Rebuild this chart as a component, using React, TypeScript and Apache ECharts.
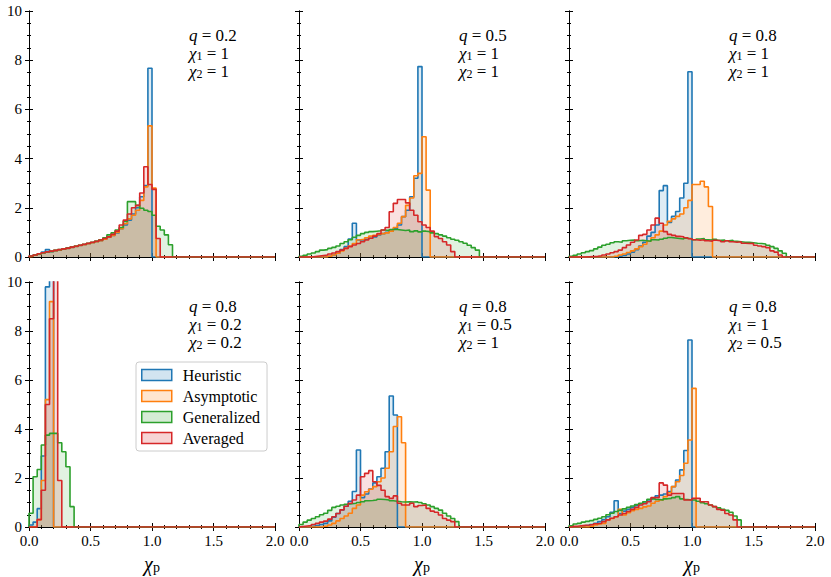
import React, { useEffect, useRef } from "react";
import * as echarts from "echarts";

// ---------- data (histogram densities, bin width 1/30 on [0, 2]) ----------
const BIN_WIDTH = 1 / 30;
const N_BINS = 60;
const X_MIN = 0;
const X_MAX = 2;
const Y_MIN = 0;
const Y_MAX = 10;

const METHODS = ["Heuristic", "Asymptotic", "Generalized", "Averaged"];
const COLORS = ["#1f77b4", "#ff7f0e", "#2ca02c", "#d62728"];
const FILLS = [
  "rgba(31,119,180,0.2)",
  "rgba(255,127,14,0.2)",
  "rgba(44,160,44,0.2)",
  "rgba(214,39,40,0.2)",
];

// panel 1: q=0.2, chi1=1, chi2=1
const P1_HEU = { start: 0, values: [0.03, 0.08, 0.12, 0.2, 0.3, 0.22, 0.26, 0.29, 0.32, 0.35, 0.39, 0.43, 0.47, 0.5, 0.54, 0.58, 0.62, 0.66, 0.72, 0.8, 0.88, 0.98, 1.15, 1.3, 1.5, 1.75, 2.0, 2.45, 2.9, 7.67] };
const P1_ASY = { start: 0, values: [0.02, 0.07, 0.12, 0.17, 0.2, 0.23, 0.26, 0.29, 0.32, 0.35, 0.39, 0.43, 0.47, 0.5, 0.54, 0.58, 0.62, 0.66, 0.72, 0.8, 0.88, 1.0, 1.15, 1.35, 1.55, 1.7, 1.9, 2.3, 2.85, 5.33, 2.8] };
const P1_GEN = { start: 0, values: [0.04, 0.08, 0.12, 0.16, 0.2, 0.23, 0.27, 0.3, 0.33, 0.37, 0.4, 0.44, 0.48, 0.52, 0.56, 0.6, 0.65, 0.7, 0.78, 0.9, 0.98, 1.1, 1.2, 1.45, 2.25, 2.25, 2.1, 1.98, 1.9, 1.85, 1.7, 1.25, 1.1, 0.9, 0.5] };
const P1_AVG = { start: 0, values: [0.04, 0.08, 0.13, 0.17, 0.21, 0.24, 0.27, 0.3, 0.33, 0.36, 0.4, 0.44, 0.48, 0.52, 0.56, 0.6, 0.64, 0.69, 0.75, 0.82, 0.92, 1.05, 1.3, 1.5, 1.75, 2.0, 2.1, 2.6, 3.67, 2.95, 2.75, 0.75] };

// panel 2: q=0.5, chi1=1, chi2=1
const P2_HEU = { start: 6, values: [0.02, 0.04, 0.08, 0.15, 0.3, 0.42, 0.73, 1.37, 0.69, 0.65, 0.72, 0.76, 0.82, 0.9, 0.95, 1.0, 1.05, 1.15, 1.3, 1.64, 1.9, 2.45, 3.2, 7.74] };
const P2_ASY = { start: 7, values: [0.03, 0.08, 0.15, 0.25, 0.35, 0.45, 0.55, 0.7, 0.72, 0.78, 0.85, 0.88, 0.92, 0.95, 0.98, 1.05, 1.2, 1.37, 1.64, 2.1, 2.4, 3.3, 3.4, 4.89, 2.72] };
const P2_GEN = { start: 0, values: [0.03, 0.07, 0.12, 0.16, 0.22, 0.28, 0.3, 0.35, 0.39, 0.45, 0.55, 0.62, 0.7, 0.8, 0.88, 0.95, 1.0, 1.03, 1.05, 1.07, 1.1, 1.08, 1.12, 1.12, 1.1, 1.08, 1.1, 1.03, 1.06, 1.02, 1.05, 1.03, 0.98, 0.95, 0.9, 0.85, 0.78, 0.72, 0.68, 0.62, 0.56, 0.48, 0.38, 0.28] };
const P2_AVG = { start: 3, values: [0.02, 0.04, 0.06, 0.08, 0.12, 0.16, 0.22, 0.28, 0.35, 0.42, 0.49, 0.55, 0.62, 0.69, 0.76, 0.85, 0.95, 1.1, 1.2, 1.84, 2.18, 2.34, 2.34, 2.2, 1.9, 1.7, 1.43, 1.3, 1.2, 1.05, 0.83, 0.75, 0.62, 0.49, 0.22] };

// panel 3: q=0.8, chi1=1, chi2=1
const P3_HEU = { start: 12, values: [0.03, 0.06, 0.12, 0.2, 0.3, 0.45, 0.6, 0.85, 1.0, 1.3, 2.7, 2.9, 1.4, 1.65, 1.85, 2.4, 3.0, 7.53] };
const P3_ASY = { start: 11, values: [0.03, 0.08, 0.12, 0.18, 0.25, 0.33, 0.42, 0.52, 0.64, 0.78, 0.9, 1.05, 1.3, 1.45, 1.55, 1.65, 1.75, 2.0, 2.3, 2.95, 2.95, 3.08, 2.85, 2.05] };
const P3_GEN = { start: 0, values: [0.03, 0.07, 0.12, 0.17, 0.22, 0.26, 0.33, 0.4, 0.48, 0.52, 0.58, 0.62, 0.6, 0.66, 0.68, 0.69, 0.66, 0.68, 0.66, 0.64, 0.7, 0.69, 0.72, 0.76, 0.79, 0.77, 0.75, 0.73, 0.76, 0.74, 0.7, 0.73, 0.75, 0.7, 0.69, 0.72, 0.68, 0.69, 0.66, 0.68, 0.64, 0.62, 0.6, 0.6, 0.58, 0.56, 0.55, 0.53, 0.48, 0.42, 0.35, 0.25, 0.15] };
const P3_AVG = { start: 4, values: [0.01, 0.02, 0.03, 0.05, 0.08, 0.12, 0.17, 0.22, 0.28, 0.38, 0.49, 0.6, 0.69, 0.88, 0.92, 1.1, 1.3, 1.58, 1.37, 1.03, 0.92, 0.88, 0.84, 0.82, 0.78, 0.74, 0.7, 0.68, 0.7, 0.66, 0.64, 0.68, 0.66, 0.62, 0.66, 0.62, 0.6, 0.62, 0.56, 0.55, 0.56, 0.48, 0.45, 0.42, 0.38, 0.25, 0.2, 0.08] };

// panel 4: q=0.8, chi1=0.2, chi2=0.2
const P4_HEU = { start: 0, values: [0.08, 0.2, 0.75, 2.9, 9.8, 14] };
const P4_ASY = { start: 2, values: [0.3, 1.9, 5.2, 9.2] };
const P4_GEN = { start: 0, values: [0.56, 2.05, 2.35, 3.35, 3.75, 3.82, 3.82, 3.44, 3.07, 2.46, 0.83] };
const P4_AVG = { start: 2, values: [0.3, 1.5, 5.0, 8.5, 12, 1.9] };

// panel 5: q=0.8, chi1=0.5, chi2=1
const P5_HEU = { start: 3, values: [0.03, 0.06, 0.1, 0.15, 0.25, 0.4, 0.55, 0.7, 0.85, 1.05, 1.45, 3.14, 1.2, 1.35, 1.55, 1.8, 2.05, 2.4, 3.07, 5.35, 4.57] };
const P5_ASY = { start: 6, values: [0.03, 0.08, 0.15, 0.25, 0.35, 0.45, 0.56, 0.76, 0.9, 1.3, 1.44, 1.54, 1.65, 1.85, 2.0, 2.4, 3.07, 4.1, 4.5, 3.44] };
const P5_GEN = { start: 0, values: [0.1, 0.2, 0.28, 0.35, 0.42, 0.5, 0.56, 0.68, 0.8, 0.85, 0.9, 0.93, 0.95, 0.97, 1.0, 1.03, 1.07, 1.08, 1.1, 1.13, 1.12, 1.1, 1.07, 1.05, 1.03, 1.02, 1.03, 1.02, 1.03, 1.0, 0.95, 0.9, 0.83, 0.76, 0.69, 0.56, 0.45, 0.35, 0.22] };
const P5_AVG = { start: 0, values: [0.02, 0.04, 0.06, 0.1, 0.15, 0.2, 0.24, 0.32, 0.42, 0.55, 0.7, 0.85, 0.97, 1.1, 1.3, 2.05, 2.19, 2.3, 1.85, 1.7, 1.5, 1.24, 1.17, 1.27, 0.97, 0.9, 0.9, 0.97, 0.83, 0.88, 0.9, 0.76, 0.65, 0.6, 0.49, 0.35, 0.28, 0.22] };

// panel 6: q=0.8, chi1=1, chi2=0.5
const P6_HEU = { start: 3, values: [0.03, 0.06, 0.1, 0.15, 0.22, 0.3, 0.42, 0.6, 1.07, 0.55, 0.65, 0.72, 0.8, 0.88, 0.95, 1.02, 1.1, 1.18, 1.27, 1.3, 1.35, 1.45, 1.65, 1.92, 2.33, 3.12, 7.63] };
const P6_ASY = { start: 5, values: [0.03, 0.08, 0.12, 0.15, 0.29, 0.35, 0.42, 0.72, 0.49, 0.58, 0.67, 0.72, 0.76, 0.82, 0.86, 0.97, 1.05, 1.1, 1.24, 1.4, 1.65, 1.85, 2.1, 2.6, 3.55, 5.66] };
const P6_GEN = { start: 0, values: [0.05, 0.12, 0.15, 0.2, 0.23, 0.26, 0.31, 0.36, 0.42, 0.5, 0.56, 0.63, 0.68, 0.74, 0.8, 0.86, 0.92, 0.97, 1.03, 1.13, 1.15, 1.12, 1.1, 1.15, 1.17, 1.2, 1.24, 1.15, 1.12, 1.1, 1.1, 1.05, 0.99, 0.95, 0.9, 0.83, 0.78, 0.72, 0.68, 0.6, 0.45, 0.29] };
const P6_AVG = { start: 1, values: [0.03, 0.05, 0.07, 0.08, 0.1, 0.13, 0.15, 0.22, 0.29, 0.36, 0.42, 0.49, 0.55, 0.63, 0.72, 0.8, 0.9, 0.95, 1.03, 1.2, 1.2, 1.8, 1.71, 1.3, 1.37, 1.37, 1.37, 1.1, 1.1, 1.17, 1.17, 1.03, 1.03, 0.9, 0.83, 0.72, 0.69, 0.55, 0.49, 0.29] };

const PANEL_SERIES = [
  [P1_HEU, P1_ASY, P1_GEN, P1_AVG],
  [P2_HEU, P2_ASY, P2_GEN, P2_AVG],
  [P3_HEU, P3_ASY, P3_GEN, P3_AVG],
  [P4_HEU, P4_ASY, P4_GEN, P4_AVG],
  [P5_HEU, P5_ASY, P5_GEN, P5_AVG],
  [P6_HEU, P6_ASY, P6_GEN, P6_AVG],
];

// panel parameter labels: q, chi1, chi2
const PANEL_Q = ["0.2", "0.5", "0.8", "0.8", "0.8", "0.8"];
const PANEL_CHI1 = ["1", "1", "1", "0.2", "0.5", "1"];
const PANEL_CHI2 = ["1", "1", "1", "0.2", "1", "0.5"];

// ---------- layout ----------
const GRID_LEFTS = [29, 299, 569];
const GRID_TOPS = [11, 282];
const GRID_W = 246;
const GRID_HS = [246, 245];
const FONT = "Liberation Serif";

function toSteps(s: { start: number; values: number[] }) {
  const full: number[] = new Array(N_BINS).fill(0);
  s.values.forEach((v, k) => {
    full[s.start + k] = v;
  });
  const pts: number[][] = [[X_MIN, 0]];
  full.forEach((v, i) => pts.push([X_MIN + i * BIN_WIDTH, v]));
  pts.push([X_MAX, full[N_BINS - 1]]);
  pts.push([X_MAX, 0]);
  return pts;
}

function buildOption() {
  const grid: any[] = [];
  const xAxis: any[] = [];
  const yAxis: any[] = [];
  const series: any[] = [];
  const graphic: any[] = [];

  for (let p = 0; p < 6; p++) {
    const r = Math.floor(p / 3);
    const c = p % 3;
    grid.push({ left: GRID_LEFTS[c], top: GRID_TOPS[r], width: GRID_W, height: GRID_HS[r] });

    const lineStyle = { color: "#000", width: 1 };
    const commonX = {
      gridIndex: p,
      type: "value",
      min: X_MIN,
      max: X_MAX,
      interval: 0.5,
      splitLine: { show: false },
      axisLine: { show: true, lineStyle },
      axisTick: { show: true, inside: true, length: 4, lineStyle },
      minorTick: { show: true, splitNumber: 5, length: 2, lineStyle },
    };
    xAxis.push({
      ...commonX,
      position: "bottom",
      axisLabel: {
        show: r === 1,
        formatter: (v: number) => v.toFixed(1),
        fontFamily: FONT,
        fontSize: 15,
        color: "#000",
        margin: 6,
      },
      name: r === 1 ? "{a|χ}{b|p}" : "",
      nameLocation: "middle",
      nameGap: 27,
      nameTextStyle: {
        fontFamily: FONT,
        rich: {
          a: { fontFamily: FONT, fontSize: 20, fontStyle: "italic", color: "#000", lineHeight: 20 },
          b: { fontFamily: FONT, fontSize: 14, color: "#000", lineHeight: 12, verticalAlign: "bottom" },
        },
      },
    });
    xAxis.push({ ...commonX, position: "top", axisLabel: { show: false } });

    const commonY = {
      gridIndex: p,
      type: "value",
      min: Y_MIN,
      max: Y_MAX,
      interval: 2,
      splitLine: { show: false },
      axisLine: { show: true, lineStyle },
      axisTick: { show: true, inside: true, length: 4, lineStyle },
      minorTick: { show: true, splitNumber: 4, length: 2, lineStyle },
    };
    yAxis.push({
      ...commonY,
      position: "left",
      axisLabel: { show: c === 0, fontFamily: FONT, fontSize: 15, color: "#000", margin: 7 },
    });
    yAxis.push({ ...commonY, position: "right", axisLabel: { show: false } });

    PANEL_SERIES[p].forEach((s, m) => {
      series.push({
        type: "line",
        name: METHODS[m],
        xAxisIndex: 2 * p,
        yAxisIndex: 2 * p,
        step: "end",
        symbol: "none",
        clip: true,
        data: toSteps(s),
        lineStyle: { color: COLORS[m], width: 1.6 },
        itemStyle: { color: COLORS[m] },
        areaStyle: { color: FILLS[m] },
        emphasis: { disabled: true },
      });
    });

    graphic.push({
      type: "text",
      left: GRID_LEFTS[c] + 160,
      top: GRID_TOPS[r] + 15,
      silent: true,
      style: {
        text:
          `{i|q} = ${PANEL_Q[p]}\n` +
          `{i|χ}{s|1} = ${PANEL_CHI1[p]}\n` +
          `{i|χ}{s|2} = ${PANEL_CHI2[p]}`,
        fontFamily: FONT,
        fontSize: 17,
        lineHeight: 18,
        fill: "#000",
        rich: {
          i: { fontFamily: FONT, fontSize: 17, fontStyle: "italic", lineHeight: 18 },
          s: { fontFamily: FONT, fontSize: 12, lineHeight: 10, verticalAlign: "bottom" },
        },
      },
    });
  }

  return {
    animation: false,
    backgroundColor: "#fff",
    textStyle: { fontFamily: FONT },
    grid,
    xAxis,
    yAxis,
    series,
    graphic,
    legend: {
      orient: "vertical",
      left: 136,
      top: 362,
      icon: "rect",
      itemWidth: 30,
      itemHeight: 11,
      itemGap: 5,
      padding: [5, 7, 5, 5],
      borderColor: "#cccccc",
      borderWidth: 1,
      borderRadius: 3,
      backgroundColor: "rgba(255,255,255,0.8)",
      selectedMode: false,
      textStyle: { fontFamily: FONT, fontSize: 16, color: "#000", lineHeight: 15, padding: [0, 0, 0, 6] },
      data: METHODS.map((m, i) => ({
        name: m,
        itemStyle: { color: FILLS[i], borderColor: COLORS[i], borderWidth: 1.5 },
      })),
    },
  };
}

export default function App() {
  const ref = useRef<HTMLDivElement>(null);
  useEffect(() => {
    if (!ref.current) return;
    const chart = echarts.init(ref.current, undefined, { renderer: "svg" });
    chart.setOption(buildOption() as any);
    return () => chart.dispose();
  }, []);
  return (
    <div
      ref={ref}
      style={{ position: "fixed", left: 0, top: 0, width: 831, height: 577, background: "#fff" }}
    />
  );
}
